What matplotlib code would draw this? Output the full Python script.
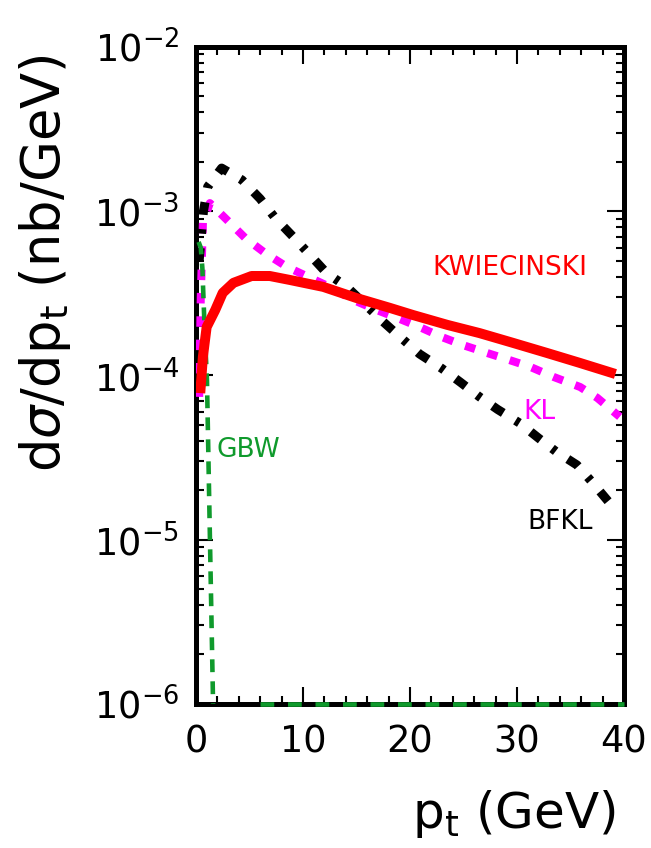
import numpy as np
import matplotlib
matplotlib.use("Agg")
import matplotlib.pyplot as plt
from matplotlib.ticker import FixedLocator, LogLocator, NullFormatter, FuncFormatter

plt.rcParams['font.family'] = ['DejaVu Sans']
plt.rcParams['mathtext.fontset'] = 'dejavusans'

# KWIECINSKI (solid red)
kw_pt = [0.4, 0.65, 1.0, 1.8, 2.5, 3.5, 5.2, 6.9, 8.8, 11.9, 15.0, 18.1,
         20.3, 23.5, 26.5, 29.6, 32.8, 35.9, 39.2]
kw_val = [7.8e-5, 1.3e-4, 1.97e-4, 2.5e-4, 3.18e-4, 3.66e-4, 4.03e-4, 4.03e-4,
          3.81e-4, 3.46e-4, 2.96e-4, 2.58e-4, 2.33e-4, 2.03e-4, 1.81e-4,
          1.58e-4, 1.37e-4, 1.19e-4, 1.02e-4]

# KL (dashed magenta)
kl_pt = [0.3, 0.45, 0.65, 1.3, 2.9, 4.6, 6.45, 8.5, 10.5, 12.5, 14.7, 16.9,
         18.8, 20.9, 23.0, 24.95, 27.2, 29.3, 31.2, 33.4, 35.9, 37.5, 39.6]
kl_val = [7.4e-5, 3.0e-4, 8.5e-4, 1.12e-3, 8.85e-4, 6.87e-4, 5.57e-4, 4.58e-4,
          3.98e-4, 3.46e-4, 2.88e-4, 2.5e-4, 2.24e-4, 1.97e-4, 1.71e-4,
          1.53e-4, 1.37e-4, 1.24e-4, 1.13e-4, 9.8e-5, 8.5e-5, 7.3e-5, 5.6e-5]

# BFKL (dash-dot black)
bfkl_pt = [0.3, 0.7, 1.1, 2.4, 4.3, 6.0, 7.4, 9.1, 10.65, 12.2, 14.1, 17.5,
           19.1, 20.9, 23.0, 24.7, 26.5, 28.2, 30.3, 32.0, 33.7, 35.6, 37.1,
           38.9]
bfkl_val = [5.0e-4, 1.0e-3, 1.41e-3, 1.83e-3, 1.55e-3, 1.19e-3, 9.1e-4, 6.97e-4,
            5.42e-4, 4.21e-4, 3.46e-4, 2.12e-4, 1.71e-4, 1.35e-4, 1.1e-4,
            9.1e-5, 7.4e-5, 6.2e-5, 5.1e-5, 4.16e-5, 3.42e-5, 2.85e-5, 2.21e-5,
            1.6e-5]

# GBW (dashed green), falls off the bottom of the plot
gbw_pt = [0.25, 0.45, 0.6, 0.8, 1.03, 1.3, 1.6, 1.75]
gbw_val = [6.5e-4, 6.0e-4, 4.5e-4, 2.0e-4, 9.3e-5, 1.07e-5, 1.0e-6, 3.0e-7]
gbw_floor_pt = [6.0, 40.0]
gbw_floor_val = [1e-6, 1e-6]

green = '#0f9a2c'

fig = plt.figure(figsize=(6.51, 8.48), dpi=100)
ax = fig.add_axes([0.301, 0.170, 0.6575, 0.7746])

ax.plot(kw_pt, kw_val, color='red', lw=7.2, solid_capstyle='butt', zorder=4)
ax.plot(kl_pt, kl_val, color='#ff00ff', lw=5.8, ls=(0, (1.3, 1.6)), zorder=3)
ax.plot(bfkl_pt, bfkl_val, color='black', lw=6.5, ls=(0, (1.4, 1.6, 0.5, 1.6)), zorder=3)
ax.plot(gbw_pt, gbw_val, color=green, lw=3.3, ls=(0, (2.8, 2.0)), zorder=3)
ax.plot(gbw_floor_pt, gbw_floor_val, color=green, lw=3.3, ls=(0, (3.0, 3.0)),
        zorder=3, clip_on=False)

ax.set_yscale('log')
ax.set_xlim(0, 40)
ax.set_ylim(1e-6, 1e-2)

ax.xaxis.set_major_locator(FixedLocator([0, 10, 20, 30, 40]))
ax.xaxis.set_minor_locator(FixedLocator(np.arange(0, 41, 2)))
ax.yaxis.set_major_locator(LogLocator(base=10, numticks=10))
ax.yaxis.set_minor_locator(LogLocator(base=10, subs=np.arange(2, 10), numticks=20))
ax.yaxis.set_minor_formatter(NullFormatter())
ax.yaxis.set_major_formatter(FuncFormatter(lambda v, p: r'$10^{%d}$' % round(np.log10(v))))

ax.tick_params(which='both', direction='in', top=True, right=True, width=1.5)
ax.tick_params(which='major', length=12)
ax.tick_params(which='minor', length=6)
ax.tick_params(axis='x', labelsize=26.5, pad=14)
ax.tick_params(axis='y', labelsize=26.5, pad=12)
for s in ax.spines.values():
    s.set_linewidth(3.6)

ax.text(29.3, 4.5e-4, 'KWIECINSKI', color='red', fontsize=19, ha='center', va='center')
ax.text(32.1, 6.0e-5, 'KL', color='#ff00ff', fontsize=19, ha='center', va='center')
ax.text(34.0, 1.28e-5, 'BFKL', color='black', fontsize=19, ha='center', va='center')
ax.text(4.9, 3.5e-5, 'GBW', color=green, fontsize=19, ha='center', va='center')

fig.text(0.069, 0.69, r'd$\sigma$/dp$_\mathrm{t}$ (nb/GeV)', rotation=90,
         ha='center', va='center', fontsize=38)
fig.text(0.945, 0.04, r'p$_\mathrm{t}$ (GeV)', ha='right', va='center', fontsize=36)

fig.savefig('out.png', dpi=100)
